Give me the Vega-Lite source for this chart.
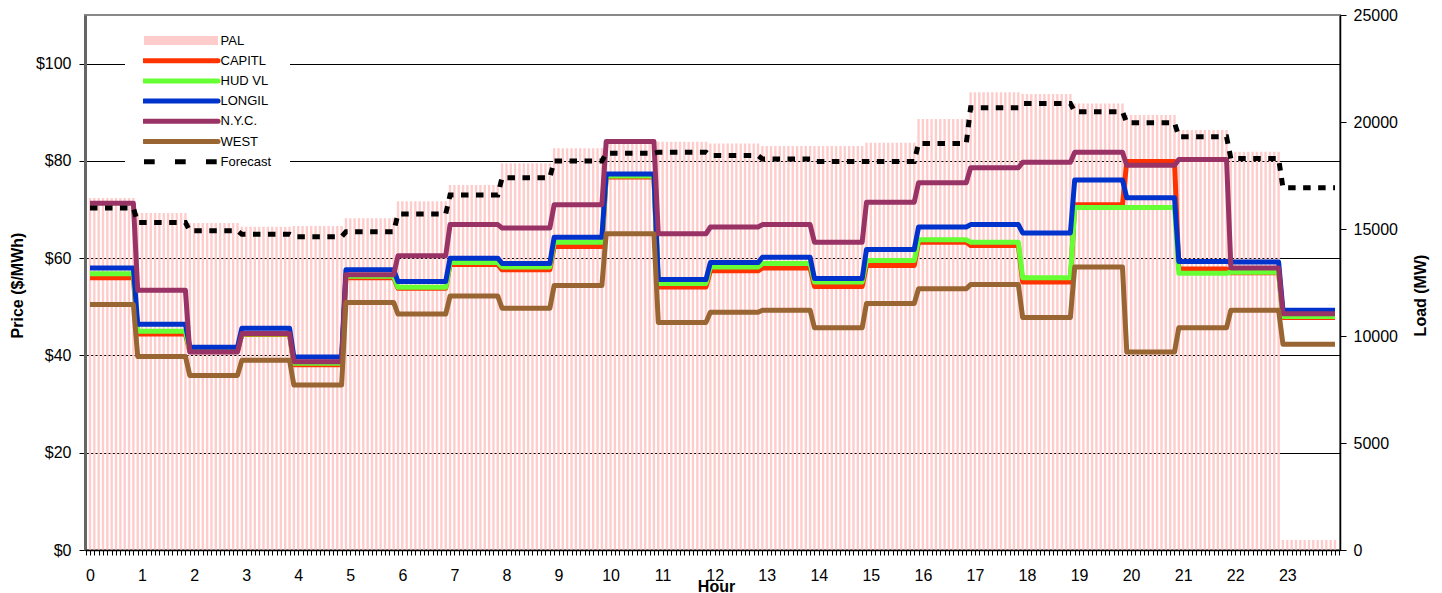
{
 "$schema": "https://vega.github.io/schema/vega-lite/v6.json",
 "width": 1255, "height": 535,
 "autosize": {"type": "none"},
 "padding": {"left": 85, "top": 15, "right": 102, "bottom": 43},
 "background": "white",
 "config": {"font": "Liberation Sans", "view": {"stroke": "#888888", "strokeWidth": 2}},
 "datasets": {
  "pal": [
   {"i":0,"L":16450},{"i":1,"L":16450},{"i":2,"L":16450},{"i":3,"L":16450},{"i":4,"L":16450},{"i":5,"L":16450},{"i":6,"L":16450},{"i":7,"L":16450},{"i":8,"L":16450},{"i":9,"L":16450},{"i":10,"L":16450},
   {"i":11,"L":15750},{"i":12,"L":15750},{"i":13,"L":15750},{"i":14,"L":15750},{"i":15,"L":15750},{"i":16,"L":15750},{"i":17,"L":15750},{"i":18,"L":15750},{"i":19,"L":15750},{"i":20,"L":15750},{"i":21,"L":15750},{"i":22,"L":15750},
   {"i":23,"L":15280},{"i":24,"L":15280},{"i":25,"L":15280},{"i":26,"L":15280},{"i":27,"L":15280},{"i":28,"L":15280},{"i":29,"L":15280},{"i":30,"L":15280},{"i":31,"L":15280},{"i":32,"L":15280},{"i":33,"L":15280},{"i":34,"L":15280},
   {"i":35,"L":15110},{"i":36,"L":15110},{"i":37,"L":15110},{"i":38,"L":15110},{"i":39,"L":15110},{"i":40,"L":15110},{"i":41,"L":15110},{"i":42,"L":15110},{"i":43,"L":15110},{"i":44,"L":15110},{"i":45,"L":15110},{"i":46,"L":15110},
   {"i":47,"L":15140},{"i":48,"L":15140},{"i":49,"L":15140},{"i":50,"L":15140},{"i":51,"L":15140},{"i":52,"L":15140},{"i":53,"L":15140},{"i":54,"L":15140},{"i":55,"L":15140},{"i":56,"L":15140},{"i":57,"L":15140},{"i":58,"L":15140},
   {"i":59,"L":15500},{"i":60,"L":15500},{"i":61,"L":15500},{"i":62,"L":15500},{"i":63,"L":15500},{"i":64,"L":15500},{"i":65,"L":15500},{"i":66,"L":15500},{"i":67,"L":15500},{"i":68,"L":15500},{"i":69,"L":15500},{"i":70,"L":15500},
   {"i":71,"L":16300},{"i":72,"L":16300},{"i":73,"L":16300},{"i":74,"L":16300},{"i":75,"L":16300},{"i":76,"L":16300},{"i":77,"L":16300},{"i":78,"L":16300},{"i":79,"L":16300},{"i":80,"L":16300},{"i":81,"L":16300},{"i":82,"L":16300},
   {"i":83,"L":17060},{"i":84,"L":17060},{"i":85,"L":17060},{"i":86,"L":17060},{"i":87,"L":17060},{"i":88,"L":17060},{"i":89,"L":17060},{"i":90,"L":17060},{"i":91,"L":17060},{"i":92,"L":17060},{"i":93,"L":17060},{"i":94,"L":17060},
   {"i":95,"L":18070},{"i":96,"L":18070},{"i":97,"L":18070},{"i":98,"L":18070},{"i":99,"L":18070},{"i":100,"L":18070},{"i":101,"L":18070},{"i":102,"L":18070},{"i":103,"L":18070},{"i":104,"L":18070},{"i":105,"L":18070},{"i":106,"L":18070},
   {"i":107,"L":18770},{"i":108,"L":18770},{"i":109,"L":18770},{"i":110,"L":18770},{"i":111,"L":18770},{"i":112,"L":18770},{"i":113,"L":18770},{"i":114,"L":18770},{"i":115,"L":18770},{"i":116,"L":18770},{"i":117,"L":18770},{"i":118,"L":18770},
   {"i":119,"L":19160},{"i":120,"L":19160},{"i":121,"L":19160},{"i":122,"L":19160},{"i":123,"L":19160},{"i":124,"L":19160},{"i":125,"L":19160},{"i":126,"L":19160},{"i":127,"L":19160},{"i":128,"L":19160},{"i":129,"L":19160},{"i":130,"L":19160},
   {"i":131,"L":19080},{"i":132,"L":19080},{"i":133,"L":19080},{"i":134,"L":19080},{"i":135,"L":19080},{"i":136,"L":19080},{"i":137,"L":19080},{"i":138,"L":19080},{"i":139,"L":19080},{"i":140,"L":19080},{"i":141,"L":19080},{"i":142,"L":19080},
   {"i":143,"L":19000},{"i":144,"L":19000},{"i":145,"L":19000},{"i":146,"L":19000},{"i":147,"L":19000},{"i":148,"L":19000},{"i":149,"L":19000},{"i":150,"L":19000},{"i":151,"L":19000},{"i":152,"L":19000},{"i":153,"L":19000},{"i":154,"L":19000},
   {"i":155,"L":18880},{"i":156,"L":18880},{"i":157,"L":18880},{"i":158,"L":18880},{"i":159,"L":18880},{"i":160,"L":18880},{"i":161,"L":18880},{"i":162,"L":18880},{"i":163,"L":18880},{"i":164,"L":18880},{"i":165,"L":18880},{"i":166,"L":18880},
   {"i":167,"L":18880},{"i":168,"L":18880},{"i":169,"L":18880},{"i":170,"L":18880},{"i":171,"L":18880},{"i":172,"L":18880},{"i":173,"L":18880},{"i":174,"L":18880},{"i":175,"L":18880},{"i":176,"L":18880},{"i":177,"L":18880},{"i":178,"L":18880},
   {"i":179,"L":19030},{"i":180,"L":19030},{"i":181,"L":19030},{"i":182,"L":19030},{"i":183,"L":19030},{"i":184,"L":19030},{"i":185,"L":19030},{"i":186,"L":19030},{"i":187,"L":19030},{"i":188,"L":19030},{"i":189,"L":19030},{"i":190,"L":19030},
   {"i":191,"L":20140},{"i":192,"L":20140},{"i":193,"L":20140},{"i":194,"L":20140},{"i":195,"L":20140},{"i":196,"L":20140},{"i":197,"L":20140},{"i":198,"L":20140},{"i":199,"L":20140},{"i":200,"L":20140},{"i":201,"L":20140},{"i":202,"L":20140},
   {"i":203,"L":21390},{"i":204,"L":21390},{"i":205,"L":21390},{"i":206,"L":21390},{"i":207,"L":21390},{"i":208,"L":21390},{"i":209,"L":21390},{"i":210,"L":21390},{"i":211,"L":21390},{"i":212,"L":21390},{"i":213,"L":21390},{"i":214,"L":21390},
   {"i":215,"L":21310},{"i":216,"L":21310},{"i":217,"L":21310},{"i":218,"L":21310},{"i":219,"L":21310},{"i":220,"L":21310},{"i":221,"L":21310},{"i":222,"L":21310},{"i":223,"L":21310},{"i":224,"L":21310},{"i":225,"L":21310},{"i":226,"L":21310},
   {"i":227,"L":20870},{"i":228,"L":20870},{"i":229,"L":20870},{"i":230,"L":20870},{"i":231,"L":20870},{"i":232,"L":20870},{"i":233,"L":20870},{"i":234,"L":20870},{"i":235,"L":20870},{"i":236,"L":20870},{"i":237,"L":20870},{"i":238,"L":20870},
   {"i":239,"L":20330},{"i":240,"L":20330},{"i":241,"L":20330},{"i":242,"L":20330},{"i":243,"L":20330},{"i":244,"L":20330},{"i":245,"L":20330},{"i":246,"L":20330},{"i":247,"L":20330},{"i":248,"L":20330},{"i":249,"L":20330},{"i":250,"L":20330},
   {"i":251,"L":19630},{"i":252,"L":19630},{"i":253,"L":19630},{"i":254,"L":19630},{"i":255,"L":19630},{"i":256,"L":19630},{"i":257,"L":19630},{"i":258,"L":19630},{"i":259,"L":19630},{"i":260,"L":19630},{"i":261,"L":19630},{"i":262,"L":19630},
   {"i":263,"L":18610},{"i":264,"L":18610},{"i":265,"L":18610},{"i":266,"L":18610},{"i":267,"L":18610},{"i":268,"L":18610},{"i":269,"L":18610},{"i":270,"L":18610},{"i":271,"L":18610},{"i":272,"L":18610},{"i":273,"L":18610},{"i":274,"L":18610},
   {"i":275,"L":470},{"i":276,"L":470},{"i":277,"L":470},{"i":278,"L":470},{"i":279,"L":470},{"i":280,"L":470},{"i":281,"L":470},{"i":282,"L":470},{"i":283,"L":470},{"i":284,"L":470},{"i":285,"L":470},{"i":286,"L":470},{"i":287,"L":470}
  ],
  "hours": [
   {"h":0,"s":0,"e":10,"CAPITL":56.0,"HUD":56.8,"LONGIL":58.0,"NYC":71.3,"WEST":50.5,"Forecast":15980},
   {"h":1,"s":11,"e":22,"CAPITL":44.4,"HUD":45.0,"LONGIL":46.4,"NYC":53.4,"WEST":39.8,"Forecast":15300},
   {"h":2,"s":23,"e":34,"CAPITL":40.9,"HUD":41.1,"LONGIL":41.7,"NYC":40.7,"WEST":35.9,"Forecast":14920},
   {"h":3,"s":35,"e":46,"CAPITL":44.3,"HUD":44.4,"LONGIL":45.6,"NYC":44.5,"WEST":39.0,"Forecast":14750},
   {"h":4,"s":47,"e":58,"CAPITL":38.1,"HUD":38.4,"LONGIL":39.7,"NYC":38.7,"WEST":33.9,"Forecast":14640},
   {"h":5,"s":59,"e":70,"CAPITL":56.0,"HUD":56.3,"LONGIL":57.6,"NYC":56.6,"WEST":50.9,"Forecast":14870},
   {"h":6,"s":71,"e":82,"CAPITL":53.8,"HUD":54.0,"LONGIL":55.2,"NYC":60.5,"WEST":48.5,"Forecast":15700},
   {"h":7,"s":83,"e":94,"CAPITL":58.7,"HUD":59.1,"LONGIL":60.0,"NYC":66.9,"WEST":52.2,"Forecast":16590},
   {"h":8,"s":95,"e":106,"CAPITL":57.6,"HUD":58.2,"LONGIL":58.9,"NYC":66.2,"WEST":49.7,"Forecast":17400},
   {"h":9,"s":107,"e":118,"CAPITL":62.4,"HUD":63.3,"LONGIL":64.3,"NYC":71.0,"WEST":54.4,"Forecast":18180},
   {"h":10,"s":119,"e":130,"CAPITL":76.7,"HUD":76.9,"LONGIL":77.3,"NYC":84.0,"WEST":65.0,"Forecast":18540},
   {"h":11,"s":131,"e":142,"CAPITL":54.1,"HUD":54.8,"LONGIL":55.6,"NYC":65.0,"WEST":46.8,"Forecast":18590},
   {"h":12,"s":143,"e":154,"CAPITL":57.4,"HUD":58.2,"LONGIL":59.1,"NYC":66.4,"WEST":48.9,"Forecast":18430},
   {"h":13,"s":155,"e":166,"CAPITL":58.0,"HUD":58.9,"LONGIL":60.2,"NYC":66.9,"WEST":49.3,"Forecast":18270},
   {"h":14,"s":167,"e":178,"CAPITL":54.2,"HUD":55.1,"LONGIL":55.8,"NYC":63.3,"WEST":45.7,"Forecast":18150},
   {"h":15,"s":179,"e":190,"CAPITL":58.5,"HUD":59.5,"LONGIL":61.8,"NYC":71.5,"WEST":50.7,"Forecast":18150},
   {"h":16,"s":191,"e":202,"CAPITL":63.3,"HUD":63.8,"LONGIL":66.4,"NYC":75.5,"WEST":53.7,"Forecast":19000},
   {"h":17,"s":203,"e":214,"CAPITL":62.6,"HUD":63.3,"LONGIL":66.9,"NYC":78.6,"WEST":54.6,"Forecast":20670},
   {"h":18,"s":215,"e":226,"CAPITL":55.1,"HUD":56.0,"LONGIL":65.2,"NYC":79.7,"WEST":47.8,"Forecast":20870},
   {"h":19,"s":227,"e":238,"CAPITL":71.0,"HUD":70.4,"LONGIL":76.1,"NYC":81.8,"WEST":58.2,"Forecast":20480},
   {"h":20,"s":239,"e":250,"CAPITL":79.9,"HUD":70.4,"LONGIL":72.4,"NYC":79.1,"WEST":40.7,"Forecast":19970},
   {"h":21,"s":251,"e":262,"CAPITL":57.8,"HUD":56.9,"LONGIL":59.3,"NYC":80.3,"WEST":45.7,"Forecast":19310},
   {"h":22,"s":263,"e":274,"CAPITL":57.0,"HUD":57.1,"LONGIL":59.2,"NYC":58.0,"WEST":49.3,"Forecast":18290},
   {"h":23,"s":275,"e":287,"CAPITL":47.8,"HUD":48.0,"LONGIL":49.3,"NYC":48.6,"WEST":42.3,"Forecast":16930}
  ]
 },
 "layer": [
  {
   "data": {"name": "pal"},
   "mark": {"type": "bar", "width": 2.4, "clip": true},
   "encoding": {
    "x": {"field": "i", "type": "quantitative",
     "scale": {"domain": [0, 287], "nice": false, "zero": false},
     "axis": {"orient": "bottom", "tickCount": 288, "labelExpr": "datum.value % 12 == 0 && datum.value < 287 ? '' + (datum.value / 12) : ''",
      "labelOverlap": false, "labelFlush": false, "labelBound": false, "grid": false,
      "title": "Hour", "titleFontSize": 16, "titleFontWeight": "bold", "titleColor": "black",
      "titleX": 631, "titleY": 36, "titleBaseline": "middle", "titleAlign": "center",
      "labelFontSize": 16, "labelColor": "black", "labelPadding": 12,
      "tickSize": 5, "tickColor": "black", "domainColor": "black", "domainWidth": 1.5, "zindex": 1}},
    "y": {"field": "L", "type": "quantitative",
     "scale": {"domain": [0, 25000], "nice": false, "zero": true},
     "axis": {"orient": "right", "values": [0, 5000, 10000, 15000, 20000, 25000], "format": "d", "grid": false,
      "tickSize": 6, "tickColor": "black", "domainColor": "black", "domainWidth": 1.5,
      "labelFontSize": 16, "labelColor": "black", "labelPadding": 7,
      "title": "Load (MW)", "titleFontSize": 16, "titleFontWeight": "bold", "titleColor": "black",
      "titleAngle": 270, "titleX": 80, "titleY": 280, "titleBaseline": "middle", "titleAlign": "center", "zindex": 1}},
    "color": {"datum": "PAL", "type": "nominal", "title": null,
     "scale": {"domain": ["PAL", "CAPITL", "HUD", "LONGIL", "NYC", "WEST", "Forecast"],
      "range": ["#FFCCCC", "#FF3300", "#66FF33", "#0033CC", "#993366", "#996633", "#000000"]},
     "legend": {"orient": "none", "legendX": 40, "legendY": 1, "title": null, "fillColor": "white",
      "padding": 18, "symbolType": "stroke", "symbolSize": 5476, "symbolStrokeWidth": 5, "symbolOffset": 31.5, "labelOffset": 33,
      "clipHeight": 13, "labelFontSize": 13, "labelColor": "black", "labelFont": "Liberation Sans", "rowPadding": 6.2, "zindex": 1,
      "labelExpr": "datum.label == 'HUD' ? 'HUD VL' : datum.label == 'NYC' ? 'N.Y.C.' : datum.label",
      "encode": {"symbols": {"update": {
       "size": {"value": 5476},
       "stroke": {"scale": "color", "field": "value"},
       "fill": {"value": "transparent"},
       "strokeWidth": {"signal": "datum.value === 'PAL' ? 9 : 5"},
       "strokeDash": {"signal": "datum.value === 'Forecast' ? [10.7, 20.3] : null"},
       "strokeCap": {"signal": "datum.value === 'PAL' || datum.value === 'Forecast' ? 'butt' : 'round'"},
       "opacity": {"value": 1}}}}}}
   }
  },
  {
   "data": {"name": "hours"},
   "transform": [
    {"fold": ["CAPITL", "HUD", "LONGIL", "NYC", "WEST"], "as": ["series", "price"]},
    {"fold": ["s", "e"], "as": ["k", "i"]}
   ],
   "mark": {"type": "line", "strokeWidth": 5, "strokeJoin": "round"},
   "encoding": {
    "x": {"field": "i", "type": "quantitative", "scale": {"domain": [0, 287], "nice": false, "zero": false}},
    "y": {"field": "price", "type": "quantitative",
     "scale": {"domain": [0, 110], "nice": false, "zero": true},
     "axis": {"orient": "left", "values": [0, 20, 40, 60, 80, 100], "labelExpr": "'$' + datum.value",
      "grid": true, "gridColor": "black", "gridWidth": 1,
      "tickSize": 6, "tickColor": "black", "domainColor": "#666666", "domainWidth": 3,
      "labelFontSize": 16, "labelColor": "black", "labelPadding": 8,
      "title": "Price ($/MWh)", "titleFontSize": 16, "titleFontWeight": "bold", "titleColor": "black",
      "titleAngle": 270, "titleX": -68, "titleY": 270, "titleBaseline": "middle", "titleAlign": "center", "zindex": 0}},
    "color": {"field": "series", "type": "nominal", "title": null}
   }
  },
  {
   "data": {"name": "hours"},
   "transform": [{"fold": ["s", "e"], "as": ["k", "i"]}],
   "mark": {"type": "line", "strokeWidth": 5, "strokeDash": [7.5, 7.5]},
   "encoding": {
    "x": {"field": "i", "type": "quantitative", "scale": {"domain": [0, 287], "nice": false, "zero": false}},
    "y": {"field": "Forecast", "type": "quantitative",
     "scale": {"domain": [0, 25000], "nice": false, "zero": true}, "axis": null},
    "color": {"datum": "Forecast", "type": "nominal", "title": null}
   }
  }
 ],
 "resolve": {"scale": {"y": "independent"}}
}
